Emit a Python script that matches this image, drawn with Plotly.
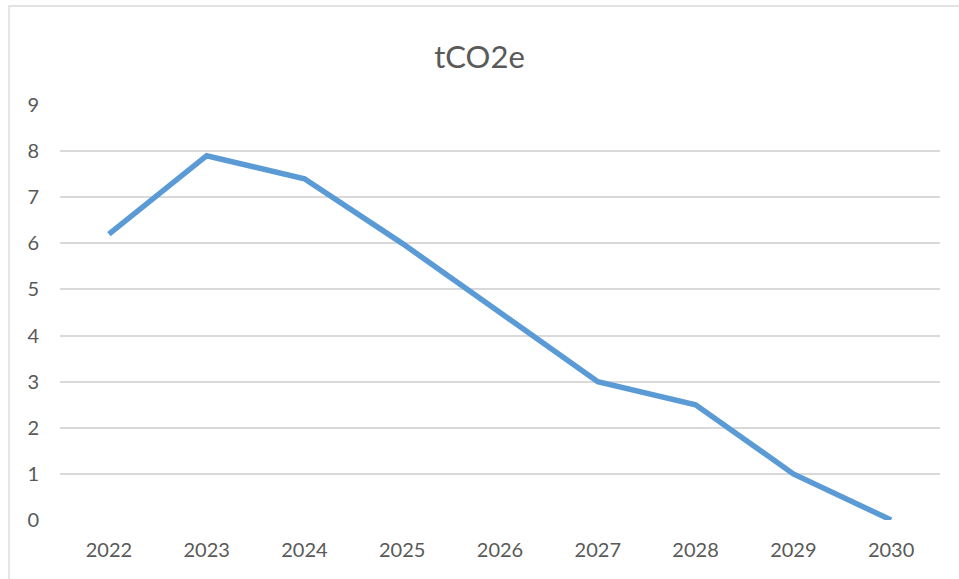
import plotly.graph_objects as go

years = ["2022", "2023", "2024", "2025", "2026", "2027", "2028", "2029", "2030"]
tco2e = [6.2, 7.9, 7.4, 6.0, 4.5, 3.0, 2.5, 1.0, 0.0]
y_ticks = [0, 1, 2, 3, 4, 5, 6, 7, 8, 9]

W, H = 959, 579
L, R, T, B = 60, 19, 105, 59
pw, ph = W - L - R, H - T - B

fig = go.Figure()
fig.add_trace(go.Scatter(
    x=years, y=tco2e, mode="lines",
    line=dict(color="#5B9BD5", width=5.5, shape="linear"),
    showlegend=False, hoverinfo="x+y",
))

font_fam = "Lato, 'Open Sans', sans-serif"
fig.update_layout(
    width=W, height=H,
    margin=dict(l=L, r=R, t=T, b=B, autoexpand=False),
    paper_bgcolor="white", plot_bgcolor="white",
    title=dict(text="tCO2e", x=0.5, xanchor="center", y=1 - 57 / H, yanchor="middle",
               font=dict(family=font_fam, size=31, color="#595959")),
    font=dict(family=font_fam, color="#595959"),
    xaxis=dict(type="category", range=[-0.5, 8.5], showgrid=False, showline=False,
               zeroline=False, ticks="", tickfont=dict(size=20, color="#595959"),
               ticklabelstandoff=16, fixedrange=True),
    yaxis=dict(range=[0, 9], tickvals=y_ticks, showgrid=True, gridcolor="#D9D9D9",
               gridwidth=1.5, zeroline=False, showline=False, ticks="",
               tickfont=dict(size=20, color="#595959"), ticklabelstandoff=20,
               fixedrange=True),
    shapes=[
        dict(type="rect", xref="paper", yref="paper",
             x0=(9 - L) / pw, x1=(W + 5 - L) / pw,
             y0=-(H + 5 - T - ph) / ph, y1=1 + (T - 6) / ph,
             line=dict(color="#D9D9D9", width=1.3), fillcolor="rgba(0,0,0,0)",
             layer="below"),
    ],
)

fig.write_html("out.html", config={"displayModeBar": False},
               post_script="document.body.style.margin='0';")
